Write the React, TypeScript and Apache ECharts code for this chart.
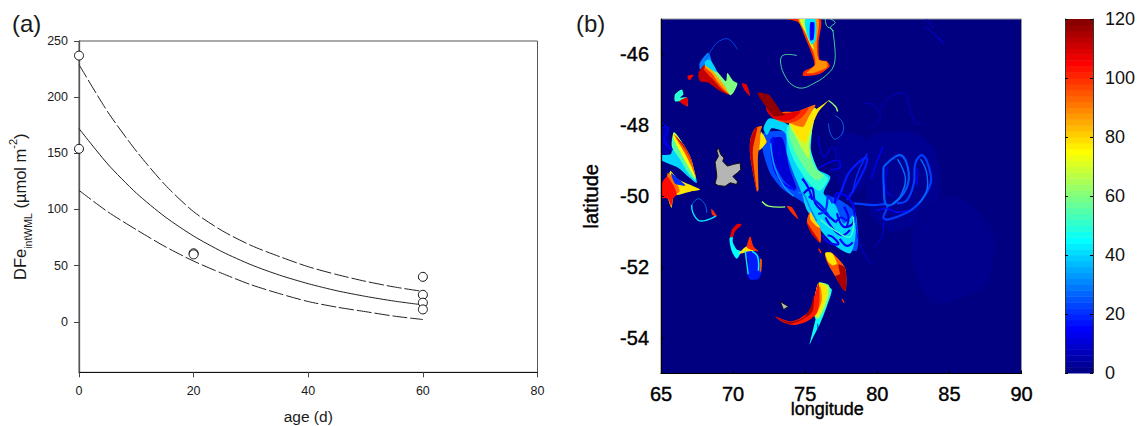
import React, { useEffect, useRef } from "react";
import * as echarts from "echarts";

// ---------- panel (a) ----------
const observedPoints = [[0, 237], [0, 154], [20, 61], [20, 60], [60, 40], [60, 24], [60, 17], [60, 11]];
const fitAges = [0, 5, 10, 15, 20, 25, 30, 35, 40, 45, 50, 55, 60];
const fitMean = [172, 140.5, 114.6, 93.5, 76.3, 62.3, 50.8, 41.5, 33.9, 27.6, 22.6, 18.4, 15];
const fitUpper = [229, 187, 152, 122, 98, 81, 68, 58, 49, 42, 36, 31, 27];
const fitLower = [117, 98, 82, 67, 54, 43, 33, 25, 18, 13, 9, 5, 2];
const yTicksA = [0, 50, 100, 150, 200, 250];

// ---------- panel (b) : [value, [lon, lat, lon, lat, ...]] ----------
type Shape = [number, number[]];

const hazePatches: Shape[] = [
  [2, [79.5, -48.3, 82.5, -48.2, 84, -48.7, 84.3, -50, 83, -50.7, 81, -51, 79.5, -50.5, 79.2, -49.3]],
  [1.5, [82.8, -50.5, 85.5, -50, 88, -51, 87.5, -52.5, 84, -53, 82.5, -52]],
  [2, [77.5, -48.2, 79.5, -48.5, 79.3, -49.6, 78, -50, 77, -49.4]],
  [6, [65, -47.9, 65.5, -48.1, 65.5, -48.85, 65, -48.85]],
];

const basePatches: Shape[] = [
  [24, [72.11, -48.22, 73.73, -48.22, 74.43, -49.26, 75.47, -49.82, 77.44, -50.11, 78.48, -50.48, 78.59, -51.52, 77.44, -51.42, 74.89, -50.2, 73.5, -49.82, 72.57, -49.35, 72, -48.6]],
  [10, [72.6, -48.4, 73.4, -48.35, 73.9, -49.2, 74.4, -49.8, 73.6, -49.6, 72.9, -49.1]],
];

const centralPatches: Shape[] = [
  [40, [72.11, -48.08, 72.53, -47.8, 73.85, -47.99, 75.24, -48.6, 75.7, -49.21, 76.74, -49.45, 76.28, -49.92, 77.09, -50.25, 77.67, -50.77, 78.48, -50.48, 78.48, -51.14, 78.13, -51.61, 77.2, -51.43, 76.16, -51, 75.12, -50.39, 74.77, -49.92, 74.19, -49.35, 73.73, -48.79, 73.62, -48.22, 72.69, -48.08, 72.34, -48.27]],
  [50, [73.8, -48, 75.4, -47.9, 75.4, -48.7, 75.9, -49.25, 76.6, -49.5, 76, -49.85, 75.2, -49.6, 74.3, -49.05, 73.8, -48.5]],
  [58, [73.96, -48.03, 75.47, -47.7, 75.24, -48.6, 75.7, -49.21, 76.3, -49.42, 75.8, -49.55, 75.24, -49.35, 74.43, -48.85, 73.96, -48.4]],
  [68, [73.9, -47.9, 75.7, -47.5, 75.6, -47.9, 75.3, -48.5, 75.3, -48.95, 74.85, -48.7, 74.3, -48.3]],
  [78, [73.96, -47.89, 75.7, -47.56, 76.62, -47.3, 75.93, -47.61, 75.35, -48.13, 75, -48.5, 74.66, -48.4, 74.19, -48.12]],
  [92, [73.38, -47.64, 74.43, -47.61, 75.7, -47.42, 75.25, -47.75, 74.85, -48.04, 73.96, -47.95, 73.04, -47.85]],
  [100, [72.7, -47.4, 73.38, -47.64, 74.43, -47.61, 75.25, -47.5, 74.7, -47.8, 73.96, -47.93, 73.1, -47.85, 72.6, -47.7]],
  [108, [72.46, -47.14, 73.38, -47.64, 74.43, -47.61, 74.7, -47.6, 74.2, -47.8, 73.6, -47.87, 72.8, -47.8, 72.3, -47.55]],
  [118, [71.69, -47.08, 72.46, -47.14, 73.38, -47.64, 73.62, -47.71, 72.8, -47.73, 72.11, -47.38]],
  [92, [71.53, -48.08, 72, -48.02, 71.88, -48.22, 72.34, -48.46, 71.76, -48.74, 71.76, -49.82, 71.65, -49.87, 71.19, -48.88, 71.19, -48.41]],
  [78, [71.93, -48.17, 72.3, -48.46, 71.83, -48.7, 71.88, -48.41]],
  [112, [71.53, -48.08, 71.69, -48.05, 71.37, -48.7, 71.46, -49.26, 71.65, -49.87, 71.19, -48.88, 71.19, -48.41]],
  [100, [73.73, -50.28, 74.08, -50.31, 74.54, -50.65, 74.19, -50.53]],
  [95, [75.35, -50.44, 75.7, -50.77, 76.05, -50.91, 76.05, -51.31, 75.47, -51.05, 75.12, -50.72]],
  [110, [75.07, -50.72, 75.47, -50.95, 76.05, -51.31, 75.47, -51.08]],
  [80, [75.35, -50.44, 75.75, -50.72, 76.05, -50.88, 75.8, -50.85, 75.35, -50.65]],
  [95, [76.39, -51.6, 76.85, -51.6, 77.78, -52.03, 77.78, -52.68, 77.08, -52.26, 76.5, -51.84]],
  [78, [76.39, -51.6, 76.85, -51.6, 77.2, -51.9, 76.9, -51.95, 76.6, -51.85]],
  [115, [77.31, -51.93, 77.78, -52.03, 77.78, -52.68, 77.08, -52.26, 77.4, -52.2]],
];

const topPlume: Shape[] = [
  [100, [73.77, -45, 76.04, -45, 75.93, -45.67, 76.0, -46.14, 76.5, -46.19, 76.7, -46.33, 75.93, -46.56, 74.84, -46.6, 74.93, -46.47, 75.63, -46.31, 75.47, -46, 75, -45.53, 74.54, -45.1]],
  [88, [74.54, -45, 75.9, -45, 75.8, -45.67, 75.93, -46.14, 76.5, -46.21, 76.5, -46.37, 75.58, -46.52, 75.1, -46.52, 75.69, -46.28, 75.58, -45.95, 75.0, -45.4]],
  [70, [74.6, -45, 75.0, -45, 75.35, -45.45, 75.6, -45.85, 75.45, -45.8, 75.05, -45.4]],
  [42, [75, -45, 75.7, -45, 75.74, -45.57, 75.46, -45.72, 75.1, -45.4]],
  [15, [75.35, -45.1, 75.63, -45.1, 75.58, -45.57, 75.35, -45.6]],
];

const northWestPatches: Shape[] = [
  [30, [67.7, -46.23, 68.28, -45.95, 68.52, -46.28, 68.06, -46.37, 67.7, -46.42]],
  [112, [67.6, -46.52, 68.06, -46.28, 68.52, -46.52, 69.2, -46.85, 69.68, -47.13, 68.98, -47, 68.29, -46.8, 67.7, -46.75]],
  [98, [67.95, -46.4, 68.4, -46.35, 68.98, -46.65, 69.5, -46.95, 69.75, -47.13, 69.2, -46.98, 68.6, -46.7]],
  [85, [68.06, -46.28, 68.52, -46.37, 68.98, -46.6, 69.44, -46.85, 69.79, -47.13, 69.44, -47.02, 68.98, -46.8, 68.52, -46.53, 68.06, -46.37]],
  [60, [68.29, -46.28, 68.98, -46.52, 69.51, -46.75, 69.6, -46.52, 70.02, -46.75, 70.3, -46.82, 70.02, -47.08, 69.79, -47.15, 69.44, -46.9, 68.98, -46.66]],
  [40, [68.06, -46.19, 68.4, -46.15, 68.9, -46.5, 68.4, -46.4, 68.06, -46.3]],
  [108, [70.6, -46.82, 70.93, -46.85, 71.18, -47.17, 70.83, -47.03]],
  [105, [66.83, -46.61, 67.25, -46.58, 66.97, -46.73]],
  [50, [65.97, -47.13, 66.44, -46.99, 66.55, -47.13, 66.32, -47.22, 66.78, -47.22, 66.83, -47.46, 66.32, -47.32, 65.97, -47.32]],
  [108, [66.28, -47.32, 66.83, -47.22, 66.83, -47.46, 66.55, -47.41]],
];

const westPatches: Shape[] = [
  [40, [65, -48.85, 65.7, -48.8, 65.9, -48.2, 66.55, -48.54, 67.06, -48.92, 67.48, -49.62, 66.9, -49.45, 66.2, -49.2, 65, -48.98]],
  [55, [65.75, -48.6, 65.9, -48.2, 66.55, -48.54, 67.06, -48.92, 67.4, -49.55, 66.9, -49.35, 66.3, -48.95]],
  [75, [65.85, -48.35, 65.9, -48.2, 66.55, -48.54, 67.06, -48.92, 67.4, -49.5, 66.95, -49.2, 66.4, -48.8]],
  [95, [65.9, -48.25, 66.55, -48.54, 67.06, -48.92, 67.42, -49.48, 67.1, -49.15, 66.6, -48.75]],
  [112, [66, -48.3, 66.55, -48.54, 67.06, -48.92, 67.42, -49.45, 67.2, -49.1, 66.8, -48.75]],
  [78, [65.63, -49.29, 66.2, -49.53, 67.71, -49.81, 67.13, -49.86, 66.32, -49.95, 65.86, -50, 65.74, -50.33, 65.5, -50.05]],
  [92, [65.45, -49.35, 65.9, -49.5, 66.3, -49.85, 65.9, -49.98, 65.72, -50.3, 65.5, -50.05]],
  [104, [65, -49.7, 65.4, -49.45, 65.8, -49.65, 66.1, -49.95, 65.85, -50.05, 65.7, -50.25, 65.55, -50.1, 65.3, -50.05, 65.05, -50.05]],
  [20, [65.7, -49.35, 66.3, -49.55, 66.7, -49.7, 66, -49.65]],
  [100, [68.5, -50.35, 68.9, -50.57, 68.55, -50.52]],
];

const midPatches: Shape[] = [
  [18, [70.83, -51.5, 71.18, -51.45, 71.88, -51.75, 72, -52.08, 71.76, -52.33, 71.18, -52.35, 70.95, -52.15, 71.07, -51.87]],
  [45, [69.98, -51.1, 69.75, -51.2, 69.91, -51.55, 70.25, -51.76, 70.55, -51.55, 70.25, -51.5, 69.98, -51.3]],
  [108, [70.3, -50.78, 70.6, -50.8, 70.14, -50.99, 69.98, -51.15, 69.8, -51.15, 69.95, -50.92]],
  [78, [70.4, -51.62, 70.95, -51.41, 71.6, -51.52, 71.1, -51.55, 70.7, -51.6]],
  [100, [71.18, -51.13, 71.41, -51.41, 71.76, -51.55, 71.18, -51.5, 70.95, -51.43]],
  [95, [71.88, -51.75, 72, -51.8, 71.95, -52.1, 71.85, -52.15]],
];

const southPlume: Shape[] = [
  [46, [75.93, -52.45, 76.5, -52.54, 76.85, -52.64, 76.5, -53.11, 76.04, -53.58, 75.58, -53.95, 75.3, -54.19, 75.58, -53.7, 75.74, -53.39, 75.58, -53.11]],
  [56, [75.93, -52.45, 76.62, -52.5, 76.75, -52.7, 76.45, -53.1, 76, -53.45, 75.7, -53.45, 75.6, -53.1]],
  [68, [75.93, -52.45, 76.55, -52.52, 76.62, -52.74, 76.3, -53.15, 75.85, -53.44, 75.6, -53.1]],
  [78, [75.93, -52.45, 76.45, -52.54, 76.45, -52.8, 76.1, -53.2, 75.74, -53.4, 75.58, -53.11]],
  [90, [75.79, -52.64, 76.04, -52.54, 76.16, -52.93, 75.74, -53.34, 75.46, -53.39, 75.58, -53.11]],
  [102, [72.92, -53.39, 73.96, -53.53, 74.65, -53.44, 75.35, -53.2, 75.69, -52.74, 75.93, -52.45, 76.0, -52.93, 75.8, -53.3, 75.12, -53.53, 74.2, -53.63, 73.5, -53.56]],
  [116, [72.92, -53.39, 73.96, -53.55, 74.9, -53.42, 75.4, -53.1, 75.6, -52.8, 75.5, -53.25, 74.7, -53.5, 73.9, -53.6]],
];

const islands: number[][] = [
  [68.98, -48.63, 69.14, -48.82, 69.37, -48.92, 69.28, -49.01, 69.6, -49.15, 70.02, -49.1, 70.49, -49.06, 70.53, -49.25, 70.3, -49.34, 69.98, -49.44, 70.3, -49.58, 70.25, -49.67, 69.8, -49.62, 69.44, -49.72, 68.98, -49.7, 68.75, -49.65, 68.87, -49.44, 68.82, -49.25, 68.75, -49.04, 68.98, -48.87, 68.87, -48.72],
  [73.26, -52.97, 73.84, -53.11, 73.5, -53.2],
];

const hairFilaments: Shape[] = [
  [55, [77.08, -45.95, 76.97, -46.33, 76.39, -46.61, 75.58, -46.82, 74.77, -46.95, 74.07, -46.85, 73.6, -46.61, 73.31, -46.28, 73.38, -46.05, 73.84, -46, 74.42, -46.03]],
  [55, [76.39, -45, 76.5, -45.2, 76.85, -45.29, 76.97, -45.48, 77.08, -45.95]],
  [55, [76.74, -45, 77.08, -45.1, 76.74, -45.24, 77, -45.34]],
  [25, [68.06, -46.19, 68.52, -45.86, 68.98, -45.64, 69.68, -45.57, 70.3, -45.86]],
  [30, [76.62, -47.94, 76.74, -48.22, 77.09, -48.39, 77.62, -48.18, 77.55, -47.89, 77.09, -47.73]],
  [10, [78.94, -47.4, 79.75, -47.42, 80.21, -47.75, 79.63, -48.04]],
  [10, [80.21, -47.56, 80.91, -47.19, 81.95, -47.11, 82.18, -47.38, 82.64, -47.94, 82.99, -47.94]],
  [14, [83.3, -45.2, 84, -45.45, 84.6, -45.7, 84.2, -45.5]],
  [12, [83.4, -45, 83.9, -45.25]],
  [14, [78.48, -50.48, 78.59, -51.05, 79.06, -51.61, 79.63, -51.94]],
  [15, [80.44, -50.63, 80.33, -51.14, 79.75, -51.43]],
  [8, [75.86, -53.6, 75.95, -54.2]],
  [30, [67.13, -50.24, 67.59, -50.07, 68.06, -50.24, 68.17, -50.47]],
];

const mediumFilaments: Shape[] = [
  [42, [67.13, -50.24, 67.2, -50.45, 67.6, -50.68, 68.2, -50.67, 68.8, -50.56]],
  [62, [76.62, -47.3, 77.1, -47.47, 77.25, -47.61]],
  [62, [72, -50.15, 72.46, -50.28, 73.62, -50.3]],
  [100, [77.55, -52.9, 77.7, -53]],
  [100, [75.93, -51.48, 76.1, -51.6]],
  [42, [70.85, -51.55, 70.95, -51.9, 71.05, -52.2]],
  [45, [71.3, -51.55, 71.7, -51.7, 71.75, -52.1]],
  [52, [76.05, -50.66, 77.2, -51, 78.13, -51.14, 78.36, -50.58]],
  [14, [75.93, -49.21, 77.2, -48.98, 77.44, -49.17, 76.74, -49.26]],
  [20, [78.3, -49.9, 78.6, -49.4, 79.3, -48.8]],
  [16, [79.9, -50.4, 80.7, -50.35, 81.3, -50.45, 82.2, -50.4]],
  [28, [81.4, -48.95, 81.95, -49.5, 81.6, -50, 81.1, -50.2]],
  [12, [80.7, -49.2, 80.6, -49.8, 81, -50]],
  [28, [83, -48.95, 83.4, -49.3, 83.45, -49.8, 82.9, -50.2]],
  [14, [82.8, -49.2, 82.75, -49.7]],
  [14, [79.6, -49.5, 80, -49, 80.4, -48.6]],
  [10, [75.9, -48.3, 76.3, -48.9, 76.9, -48.6, 77.2, -48.9]],
  [30, [74.5, -49.9, 74.9, -49.95, 75.3, -50.3, 75.8, -50.7]],
  [34, [72.6, -48.5, 72.9, -49.2, 73.5, -49.7, 74.2, -50]],
];

const wideFilaments: Shape[] = [
  [18, [76.97, -50.2, 77.44, -49.92, 78.01, -49.35, 79.06, -48.93, 79.29, -48.93, 79.17, -49.17, 78.48, -49.73, 77.9, -50.11]],
  [22, [78.36, -50.2, 79.75, -50.25, 80.68, -50.25, 80.44, -50.63, 81.37, -50.58, 82.76, -50.25, 83.69, -49.64, 83.57, -49.17, 83.11, -48.84, 82.64, -49.07, 82.53, -49.64, 82.06, -50.11, 81.37, -50.2]],
  [25, [80.44, -49.17, 81.6, -48.84, 82.18, -49.35, 81.83, -49.92, 80.68, -50.25, 80.44, -49.64, 80.44, -49.17]],
  [16, [72.8, -48.32, 72.69, -48.88, 73.27, -49.55, 74.31, -49.82]],
  [12, [74.89, -49.92, 75.47, -49.78, 75.7, -50.2, 76.28, -50.44, 77.09, -50.72]],
  [14, [77.09, -50.2, 77.2, -49.92, 78.13, -50.11, 78.36, -50.72, 77.67, -50.86, 77.2, -50.48]],
  [14, [76.2, -51.1, 76.6, -51.3, 77.3, -51.35, 76.9, -51.15, 76.55, -51.1]],
  [18, [75.24, -50, 76.05, -50.25, 76.74, -50.62]],
  [12, [65.1, -48, 65.5, -48.1, 65.2, -48.4, 65.8, -48.7]],
  [16, [77.1, -50.75, 77.45, -50.6, 77.9, -50.7]],
  [14, [76.4, -50.6, 77, -50.95, 77.6, -51.1, 78.1, -50.95]],
  [20, [75.9, -50.5, 76.4, -50.4, 76.6, -50, 76.9, -50.2]],
  [12, [77.7, -50.3, 78, -50.6, 77.9, -50.85]],
  [16, [77.4, -51.2, 77.9, -51.4, 78.3, -51.3]],
  [14, [74.8, -49.5, 75.2, -49.75, 75.5, -50.1]],
];

const colorbarLevels = [0, 2, 4, 6, 8, 10, 12, 14, 16, 18, 20, 22, 24, 26, 28, 30, 32, 34, 36, 38, 40, 42, 44, 46, 48, 50, 52, 54, 56, 58, 60, 62, 64, 66, 68, 70, 72, 74, 76, 78, 80, 82, 84, 86, 88, 90, 92, 94, 96, 98, 100, 102, 104, 106, 108, 110, 112, 114, 116, 118];
const latTicks = [-54, -52, -50, -48, -46];

const jetStops = [[0, 0, 0, 128], [15, 0, 0, 255], [45, 0, 255, 255], [75, 255, 255, 0], [105, 255, 0, 0], [120, 128, 0, 0]];
function jet(v: number) {
  for (let i = 1; i < jetStops.length; i++) {
    const a = jetStops[i - 1];
    const b = jetStops[i];
    if (v <= b[0]) {
      const t = (v - a[0]) / (b[0] - a[0]);
      return `rgb(${[1, 2, 3].map((k) => Math.round(a[k] + (b[k] - a[k]) * t)).join(",")})`;
    }
  }
  return "rgb(128,0,0)";
}

function pairs(flat: number[]) {
  const out: number[][] = [];
  for (let i = 0; i < flat.length; i += 2) out.push([flat[i], flat[i + 1]]);
  return out;
}

const FONT = "'Liberation Sans', Arial, sans-serif";
const INK = "#1a1a1a";

function patchSeries(list: Shape[]) {
  return {
    type: "custom",
    xAxisIndex: 1,
    yAxisIndex: 1,
    silent: true,
    clip: true,
    data: list.map(([v, f]) => [f[0], f[1], v]),
    renderItem: (params: any, api: any) => {
      const [v, f] = list[params.dataIndex];
      return {
        type: "polygon",
        shape: { points: pairs(f).map((c) => api.coord(c)), smooth: 0.25 },
        style: { fill: jet(v) },
      };
    },
  };
}

function filamentSeries(list: Shape[], width: number) {
  return {
    type: "custom",
    xAxisIndex: 1,
    yAxisIndex: 1,
    silent: true,
    clip: true,
    data: list.map(([v, f]) => [f[0], f[1], v]),
    renderItem: (params: any, api: any) => {
      const [v, f] = list[params.dataIndex];
      return {
        type: "polyline",
        shape: { points: pairs(f).map((c) => api.coord(c)), smooth: 0.4 },
        style: { stroke: jet(v), lineWidth: width, fill: null },
      };
    },
  };
}

function lineSeries(name: string, values: number[], dashed: boolean) {
  return {
    type: "line",
    name,
    xAxisIndex: 0,
    yAxisIndex: 0,
    data: fitAges.map((a, i) => [a, values[i]]),
    smooth: 0.25,
    symbol: "none",
    clip: false,
    lineStyle: { color: "#222", width: 1, type: dashed ? [15, 3] : "solid" },
  };
}

const heavy = { color: "#000", fontFamily: FONT, fontSize: 20, textBorderColor: "#000", textBorderWidth: 0.4 };

export default function App() {
  const ref = useRef<HTMLDivElement>(null);
  useEffect(() => {
    document.body.style.margin = "0";
    const chart = echarts.init(ref.current!, undefined, { renderer: "svg" });
    chart.setOption({
      animation: false,
      backgroundColor: "#fff",
      textStyle: { fontFamily: FONT },
      grid: [
        { left: 79, top: 41, width: 458.5, height: 331.3, show: true, borderColor: "#555", borderWidth: 1, backgroundColor: "#fff", outerBoundsMode: "none" },
        { left: 661, top: 19, width: 360.5, height: 354.5, show: true, borderColor: "#999", borderWidth: 1, backgroundColor: jet(0), outerBoundsMode: "none" },
        { left: 1065, top: 19, width: 28, height: 354, show: false, outerBoundsMode: "none" },
      ],
      xAxis: [
        {
          gridIndex: 0, type: "value", min: 0, max: 80, interval: 20,
          name: "age (d)", nameLocation: "center", nameGap: 36, nameMoveOverlap: false,
          nameTextStyle: { fontSize: 15.5, color: INK, fontFamily: FONT },
          axisLine: { onZero: false, lineStyle: { color: "#111", width: 1 } },
          axisTick: { show: true, length: 5, lineStyle: { color: "#444" } },
          axisLabel: { fontSize: 12.5, color: INK, margin: 12, showMinLabel: true, showMaxLabel: true, fontFamily: FONT },
          splitLine: { show: false },
        },
        {
          gridIndex: 1, type: "value", min: 65, max: 90, interval: 5, z: 5,
          name: "longitude", nameLocation: "center", nameGap: 26, nameMoveOverlap: false,
          nameTextStyle: { ...heavy, fontSize: 18, padding: [0, 28, 0, 0] },
          axisLine: { onZero: false, lineStyle: { color: "#000", width: 1.2 } },
          axisTick: { show: true, inside: true, length: 3, lineStyle: { color: "#000" } },
          axisLabel: { ...heavy, margin: 10, showMinLabel: true, showMaxLabel: true },
          splitLine: { show: false },
        },
        { gridIndex: 2, type: "value", min: 0, max: 1, show: false },
      ],
      yAxis: [
        {
          gridIndex: 0, type: "value", min: -45, max: 250,
          name: "{n|DFe}{s|intWML}{n| (µmol m}{u|-2}{n|)}", nameLocation: "center", nameGap: 46, nameRotate: 90, nameMoveOverlap: false,
          nameTextStyle: {
            rich: {
              n: { fontSize: 16.5, color: INK, fontFamily: FONT, verticalAlign: "middle", lineHeight: 26 },
              s: { fontSize: 10.5, color: INK, fontFamily: FONT, verticalAlign: "bottom", lineHeight: 26 },
              u: { fontSize: 11, color: INK, fontFamily: FONT, verticalAlign: "top", lineHeight: 26 },
            },
          },
          axisLine: { onZero: false, lineStyle: { color: "#555", width: 1.3 } },
          axisTick: { show: true, length: 5, customValues: yTicksA, lineStyle: { color: "#444" } },
          axisLabel: { fontSize: 12.5, color: INK, margin: 11, customValues: yTicksA, fontFamily: FONT },
          splitLine: { show: false },
        },
        {
          gridIndex: 1, type: "value", min: -55, max: -45, z: 5,
          name: "latitude", nameLocation: "center", nameGap: 60, nameRotate: 90, nameMoveOverlap: false,
          nameTextStyle: heavy,
          axisLine: { onZero: false, lineStyle: { color: "#000", width: 1.2 } },
          axisTick: { show: true, inside: true, length: 3, customValues: latTicks, lineStyle: { color: "#000" } },
          axisLabel: { ...heavy, margin: 12, customValues: latTicks },
          splitLine: { show: false },
        },
        {
          gridIndex: 2, type: "value", min: 0, max: 120, interval: 20, position: "left", z: 5,
          axisLine: { show: true, onZero: false, lineStyle: { color: "#333", width: 1 } },
          axisTick: { show: true, inside: true, length: 3, lineStyle: { color: "#000" } },
          axisLabel: { show: false },
          splitLine: { show: false },
        },
        {
          gridIndex: 2, type: "value", min: 0, max: 120, interval: 20, position: "right", z: 5,
          axisLine: { show: true, onZero: false, lineStyle: { color: "#333", width: 1 } },
          axisTick: { show: true, inside: true, length: 3, lineStyle: { color: "#000" } },
          axisLabel: { fontSize: 18, color: "#111", margin: 12, fontFamily: FONT, showMinLabel: true, showMaxLabel: true },
          splitLine: { show: false },
        },
      ],
      graphic: [
        { type: "text", left: 12, top: 11, style: { text: "(a)", fontSize: 24, fill: INK, fontFamily: FONT } },
        { type: "text", left: 576, top: 11, style: { text: "(b)", fontSize: 24, fill: INK, fontFamily: FONT } },
      ],
      series: [
        lineSeries("fit", fitMean, false),
        lineSeries("upper", fitUpper, true),
        lineSeries("lower", fitLower, true),
        {
          type: "scatter",
          name: "observed",
          xAxisIndex: 0,
          yAxisIndex: 0,
          data: observedPoints,
          clip: false,
          symbolSize: 9,
          z: 4,
          itemStyle: { color: "#fff", borderColor: "#111", borderWidth: 1, opacity: 1 },
        },
        patchSeries(hazePatches),
        patchSeries(basePatches),
        filamentSeries(wideFilaments.slice(0, 4), 2.2),
        patchSeries(centralPatches),
        patchSeries(topPlume),
        patchSeries(northWestPatches),
        patchSeries(westPatches),
        patchSeries(midPatches),
        patchSeries(southPlume),
        filamentSeries(wideFilaments.slice(4), 2.2),
        filamentSeries(mediumFilaments, 1.4),
        filamentSeries(hairFilaments, 0.8),
        {
          type: "custom",
          name: "islands",
          xAxisIndex: 1,
          yAxisIndex: 1,
          silent: true,
          data: islands.map((f) => [f[0], f[1]]),
          renderItem: (params: any, api: any) => ({
            type: "polygon",
            shape: { points: pairs(islands[params.dataIndex]).map((c) => api.coord(c)) },
            style: { fill: "#b5b5b5", stroke: "#111", lineWidth: 1 },
          }),
        },
        {
          type: "custom",
          name: "colorbar",
          xAxisIndex: 2,
          yAxisIndex: 2,
          silent: true,
          data: colorbarLevels.map((l) => [0, l]),
          renderItem: (params: any, api: any) => {
            const l = colorbarLevels[params.dataIndex];
            const a = api.coord([0, l]);
            const b = api.coord([1, l + 2]);
            return {
              type: "rect",
              shape: { x: a[0], y: b[1], width: b[0] - a[0], height: a[1] - b[1] + 0.5 },
              style: { fill: jet(l + 1) },
            };
          },
        },
      ],
    });
    return () => chart.dispose();
  }, []);
  return <div ref={ref} style={{ position: "absolute", left: 0, top: 0, width: 1141, height: 426 }} />;
}
